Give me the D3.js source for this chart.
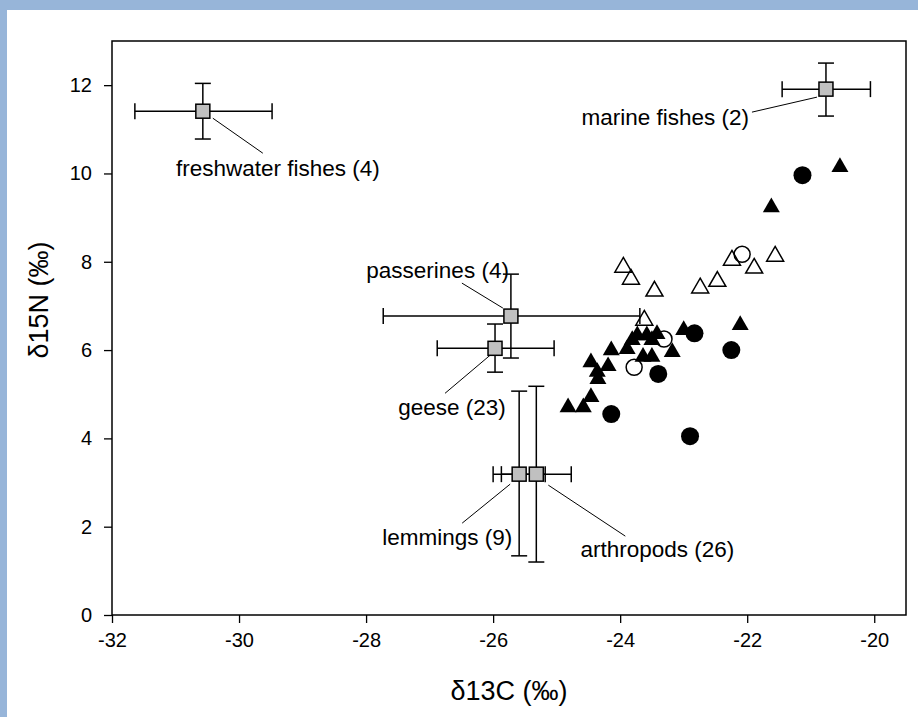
<!DOCTYPE html>
<html>
<head>
<meta charset="utf-8">
<script src="https://cdn.jsdelivr.net/npm/d3@7"></script>
<style>
    body { margin: 0; background: #fff; }
    svg { display: block; font-family: "Liberation Sans", Arial, sans-serif; }
</style>
</head>
<body>
<svg id="chart" width="918" height="717"></svg>
<script>
// Stable isotope biplot: food sources (mean +/- SD) and individual samples

// Food source groups
const groupNames = ["freshwater fishes", "marine fishes", "passerines", "geese", "lemmings", "arthropods"];
const groupN = [4, 2, 4, 23, 9, 26];
const groupC = [-30.57, -20.76, -25.72, -25.97, -25.59, -25.32];
const groupCLow = [-31.64, -21.45, -27.73, -26.88, -26.0, -25.87];
const groupCHigh = [-29.48, -20.06, -23.69, -25.04, -25.18, -24.77];
const groupN15 = [11.41, 11.91, 6.77, 6.04, 3.19, 3.19];
const groupN15Low = [10.78, 11.30, 5.82, 5.50, 1.34, 1.20];
const groupN15High = [12.04, 12.50, 7.72, 6.59, 5.07, 5.18];

// Individual samples [d13C, d15N]
const filledTriangles = [
    [-24.82, 4.75], [-24.58, 4.75], [-24.46, 4.98], [-24.35, 5.39], [-24.36, 5.55],
    [-24.46, 5.77], [-24.19, 5.68], [-24.14, 6.04], [-23.89, 6.07], [-23.81, 6.27],
    [-23.73, 6.38], [-23.58, 6.38], [-23.42, 6.41], [-23.5, 6.27], [-23.64, 5.89],
    [-23.5, 5.89], [-23.18, 6.0], [-23.0, 6.5], [-22.11, 6.61], [-21.62, 9.28],
    [-20.54, 10.19]
];
const openTriangles = [
    [-23.95, 7.92], [-23.83, 7.65], [-23.46, 7.38], [-22.74, 7.45], [-22.47, 7.6],
    [-22.24, 8.08], [-21.89, 7.90], [-21.56, 8.17], [-23.62, 6.72]
];
const filledCircles = [
    [-21.13, 9.96], [-22.83, 6.38], [-22.25, 6.0], [-23.40, 5.46], [-24.14, 4.55], [-22.90, 4.05]
];
const openCircles = [
    [-22.08, 8.17], [-23.31, 6.25], [-23.78, 5.61]
];

// Axis ticks
const xTicks = [-32, -30, -28, -26, -24, -22, -20];
const yTicks = [0, 2, 4, 6, 8, 10, 12];

// Label placement (pixel offsets from each group's square): text anchor + leader line
const labelLayout = [
    {anchor: "middle", dx: 75, dy: 57, l: [10, 7, 60, 42]},
    {anchor: "end", dx: -77, dy: 28, l: [-74, 23, -9, 8]},
    {anchor: "end", dx: -2, dy: -46, l: [-49, -33, -8, -8]},
    {anchor: "middle", dx: -43, dy: 59, l: [-50, 45, -5, 7]},
    {anchor: "middle", dx: -72, dy: 63, l: [-57, 49, -9, 10]},
    {anchor: "middle", dx: 121, dy: 75, l: [12, 11, 89, 62]}
];

const svg = d3.select("#chart");

// Blue page frame (top and left strips)
svg.append("rect").attr("x", 0).attr("y", 0).attr("width", 918).attr("height", 10).attr("fill", "#97b5d9");
svg.append("rect").attr("x", 0).attr("y", 0).attr("width", 7).attr("height", 717).attr("fill", "#97b5d9");

const plot = {left: 112, top: 41, right: 906, bottom: 615};

const x = d3.scaleLinear().domain([-32, -19.5]).range([plot.left, plot.right]);
const y = d3.scaleLinear().domain([0, 13]).range([plot.bottom, plot.top]);

// Axes
const xAxis = svg.append("g")
    .attr("transform", `translate(0,${plot.bottom})`)
    .call(d3.axisBottom(x).tickValues(xTicks).tickSize(8).tickPadding(10).tickFormat(d => d))
    .call(g => g.select(".domain").remove());
xAxis.selectAll("text").attr("font-size", "20px").attr("fill", "#000").attr("font-family", "Liberation Sans, Arial, sans-serif");
xAxis.selectAll("line").attr("stroke", "#000").attr("stroke-width", 1.3);

const yAxis = svg.append("g")
    .attr("transform", `translate(${plot.left},0)`)
    .call(d3.axisLeft(y).tickValues(yTicks).tickSize(8).tickPadding(12))
    .call(g => g.select(".domain").remove());
yAxis.selectAll("text").attr("font-size", "20px").attr("fill", "#000").attr("font-family", "Liberation Sans, Arial, sans-serif");
yAxis.selectAll("line").attr("stroke", "#000").attr("stroke-width", 1.3);

// Plot frame
svg.append("rect")
    .attr("x", plot.left)
    .attr("y", plot.top)
    .attr("width", plot.right - plot.left)
    .attr("height", plot.bottom - plot.top)
    .attr("fill", "none")
    .attr("stroke", "#000")
    .attr("stroke-width", 1.5);

// Axis titles
svg.append("text")
    .attr("x", (plot.left + plot.right) / 2)
    .attr("y", 700)
    .attr("text-anchor", "middle")
    .attr("font-size", "27px")
    .text("δ13C (‰)");

svg.append("text")
    .attr("transform", "translate(48,300) rotate(-90)")
    .attr("text-anchor", "middle")
    .attr("font-size", "27px")
    .text("δ15N (‰)");

// Scatter points
const triangle = d3.symbol().type(d3.symbolTriangle).size(125);

svg.append("g").selectAll("path")
    .data(openTriangles)
    .enter()
    .append("path")
    .attr("d", triangle)
    .attr("transform", d => `translate(${x(d[0])},${y(d[1]) + 2})`)
    .attr("fill", "none")
    .attr("stroke", "#000")
    .attr("stroke-width", 1.5);

svg.append("g").selectAll("path")
    .data(filledTriangles)
    .enter()
    .append("path")
    .attr("d", triangle)
    .attr("transform", d => `translate(${x(d[0])},${y(d[1]) + 2})`)
    .attr("fill", "#000");

svg.append("g").selectAll("circle")
    .data(filledCircles)
    .enter()
    .append("circle")
    .attr("cx", d => x(d[0]))
    .attr("cy", d => y(d[1]))
    .attr("r", 9)
    .attr("fill", "#000");

svg.append("g").selectAll("circle")
    .data(openCircles)
    .enter()
    .append("circle")
    .attr("cx", d => x(d[0]))
    .attr("cy", d => y(d[1]))
    .attr("r", 8)
    .attr("fill", "none")
    .attr("stroke", "#000")
    .attr("stroke-width", 1.5);

// Group means with error bars
const groups = groupNames.map((name, i) => ({
    name: name,
    n: groupN[i],
    c: groupC[i], cLo: groupCLow[i], cHi: groupCHigh[i],
    nv: groupN15[i], nLo: groupN15Low[i], nHi: groupN15High[i],
    layout: labelLayout[i]
}));

const cap = 8;
const bars = svg.append("g").attr("stroke", "#000").attr("stroke-width", 1.5);

groups.forEach(d => {
    const cx = x(d.c), cy = y(d.nv);
    // horizontal bar
    bars.append("line").attr("x1", x(d.cLo)).attr("x2", x(d.cHi)).attr("y1", cy).attr("y2", cy);
    bars.append("line").attr("x1", x(d.cLo)).attr("x2", x(d.cLo)).attr("y1", cy - cap).attr("y2", cy + cap);
    bars.append("line").attr("x1", x(d.cHi)).attr("x2", x(d.cHi)).attr("y1", cy - cap).attr("y2", cy + cap);
    // vertical bar
    bars.append("line").attr("x1", cx).attr("x2", cx).attr("y1", y(d.nLo)).attr("y2", y(d.nHi));
    bars.append("line").attr("x1", cx - cap).attr("x2", cx + cap).attr("y1", y(d.nLo)).attr("y2", y(d.nLo));
    bars.append("line").attr("x1", cx - cap).attr("x2", cx + cap).attr("y1", y(d.nHi)).attr("y2", y(d.nHi));
});

svg.append("g").selectAll("rect")
    .data(groups)
    .enter()
    .append("rect")
    .attr("x", d => x(d.c) - 7)
    .attr("y", d => y(d.nv) - 7)
    .attr("width", 14)
    .attr("height", 14)
    .attr("fill", "#c0c0c0")
    .attr("stroke", "#000")
    .attr("stroke-width", 1.5);

// Labels and leader lines
const labels = svg.append("g");
groups.forEach(d => {
    const cx = x(d.c), cy = y(d.nv), L = d.layout;
    labels.append("line")
        .attr("x1", cx + L.l[0]).attr("y1", cy + L.l[1])
        .attr("x2", cx + L.l[2]).attr("y2", cy + L.l[3])
        .attr("stroke", "#000")
        .attr("stroke-width", 1);
    labels.append("text")
        .attr("x", cx + L.dx)
        .attr("y", cy + L.dy)
        .attr("dy", "0.35em")
        .attr("text-anchor", L.anchor)
        .attr("font-size", "22.5px")
        .text(`${d.name} (${d.n})`);
});
</script>
</body>
</html>
